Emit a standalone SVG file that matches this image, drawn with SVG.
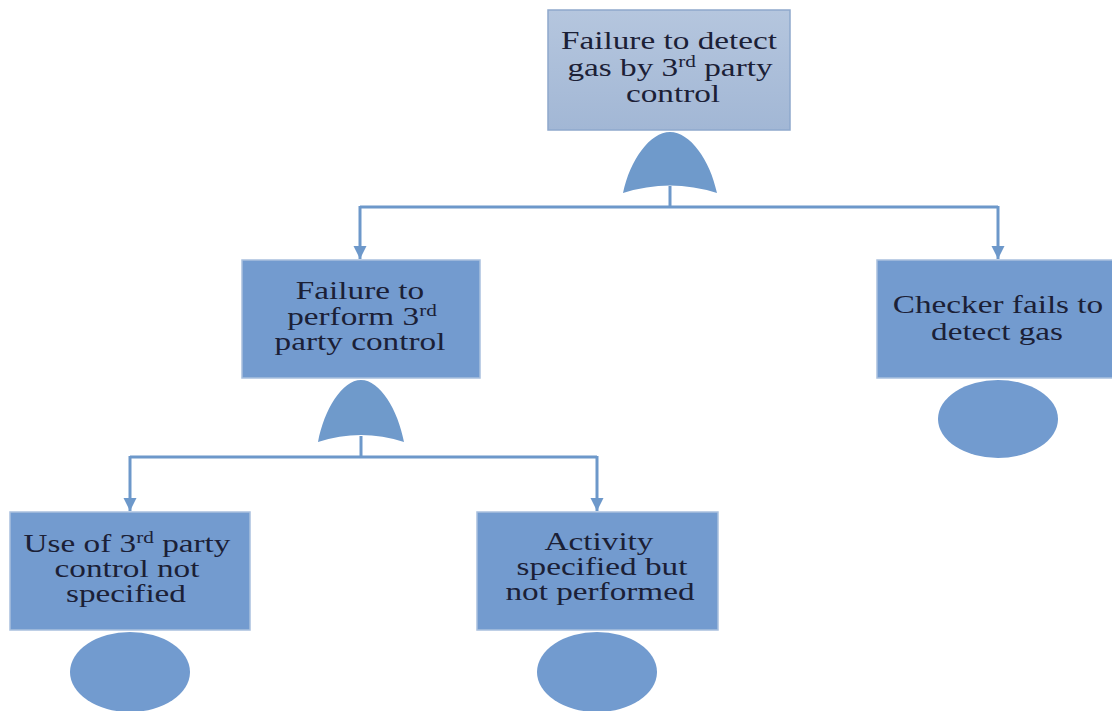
<svg xmlns="http://www.w3.org/2000/svg" width="1112" height="711" viewBox="0 0 1112 711">
<style>
.box{fill:#739bcf;stroke:#a9c0de;stroke-width:1.5}
.top{fill:url(#g1);stroke:#8ea8cc;stroke-width:1.5}
.gate{fill:#6f9acb}
.ev{fill:#729bcf}
.t{font-family:"Liberation Serif","Times New Roman",serif;font-size:25px;fill:#1b2036;text-anchor:middle}
.sup{font-size:16px}
.c{fill:none;stroke:#6d98ca;stroke-width:3}
</style>
<defs>
<linearGradient id="g1" x1="0" y1="0" x2="0" y2="1">
<stop offset="0" stop-color="#b5c6de"/>
<stop offset="1" stop-color="#a2b7d5"/>
</linearGradient>
<marker id="ah" viewBox="0 0 10 10" refX="10" refY="5" markerWidth="4.5" markerHeight="4.5" orient="auto" markerUnits="strokeWidth">
<path d="M0,0 L10,5 L0,10 Z" fill="#6d98ca"/>
</marker>
</defs>
<rect width="1112" height="711" fill="#ffffff"/>
<g id="connectors">
<path class="c" d="M670,186 V207"/>
<path class="c" d="M360,207 H998"/>
<path class="c" d="M360,206 V259" marker-end="url(#ah)"/>
<path class="c" d="M998,206 V259" marker-end="url(#ah)"/>
<path class="c" d="M361,436 V457"/>
<path class="c" d="M130,457 H597"/>
<path class="c" d="M130,456 V511" marker-end="url(#ah)"/>
<path class="c" d="M597,456 V511" marker-end="url(#ah)"/>
</g>
<g id="top-event">
<rect class="top" x="548" y="10" width="242" height="120"/>
<text class="t" transform="translate(669,49) scale(1.33,1)">Failure to detect</text>
<text class="t" transform="translate(670,76) scale(1.33,1)">gas by  3<tspan class="sup" dy="-9">rd</tspan><tspan dy="9"> party</tspan></text>
<text class="t" transform="translate(673,102) scale(1.33,1)">control</text>
</g>
<g id="gate-top">
<path class="gate" d="M623,193 C630,160 650,132 670,132 C690,132 710,160 717,193 Q670,178 623,193 Z"/>
</g>
<g id="node-perform">
<rect class="box" x="242" y="260" width="238" height="118"/>
<text class="t" transform="translate(360,299) scale(1.33,1)">Failure to</text>
<text class="t" transform="translate(362,325) scale(1.33,1)">perform 3<tspan class="sup" dy="-9">rd</tspan></text>
<text class="t" transform="translate(360,350) scale(1.33,1)">party control</text>
</g>
<g id="gate-perform">
<path class="gate" d="M318,442 C324,410 342,380 361,380 C380,380 398,410 404,442 Q361,428 318,442 Z"/>
</g>
<g id="node-checker">
<rect class="box" x="877" y="260" width="240" height="118"/>
<text class="t" transform="translate(998,313) scale(1.33,1)">Checker fails to</text>
<text class="t" transform="translate(997,340) scale(1.33,1)">detect gas</text>
</g>
<g id="event-checker">
<ellipse class="ev" cx="998" cy="419" rx="60" ry="39"/>
</g>
<g id="node-use">
<rect class="box" x="10" y="512" width="240" height="118"/>
<text class="t" transform="translate(127,552) scale(1.33,1)">Use of 3<tspan class="sup" dy="-9">rd</tspan><tspan dy="9"> party</tspan></text>
<text class="t" transform="translate(127,577) scale(1.33,1)">control not</text>
<text class="t" transform="translate(126,602) scale(1.33,1)">specified</text>
</g>
<g id="event-use">
<ellipse class="ev" cx="130" cy="672" rx="60" ry="40"/>
</g>
<g id="node-activity">
<rect class="box" x="477" y="512" width="241" height="118"/>
<text class="t" transform="translate(599,550) scale(1.33,1)">Activity</text>
<text class="t" transform="translate(602,575) scale(1.33,1)">specified but</text>
<text class="t" transform="translate(600,600) scale(1.33,1)">not performed</text>
</g>
<g id="event-activity">
<ellipse class="ev" cx="597" cy="672" rx="60" ry="40"/>
</g>
</svg>
